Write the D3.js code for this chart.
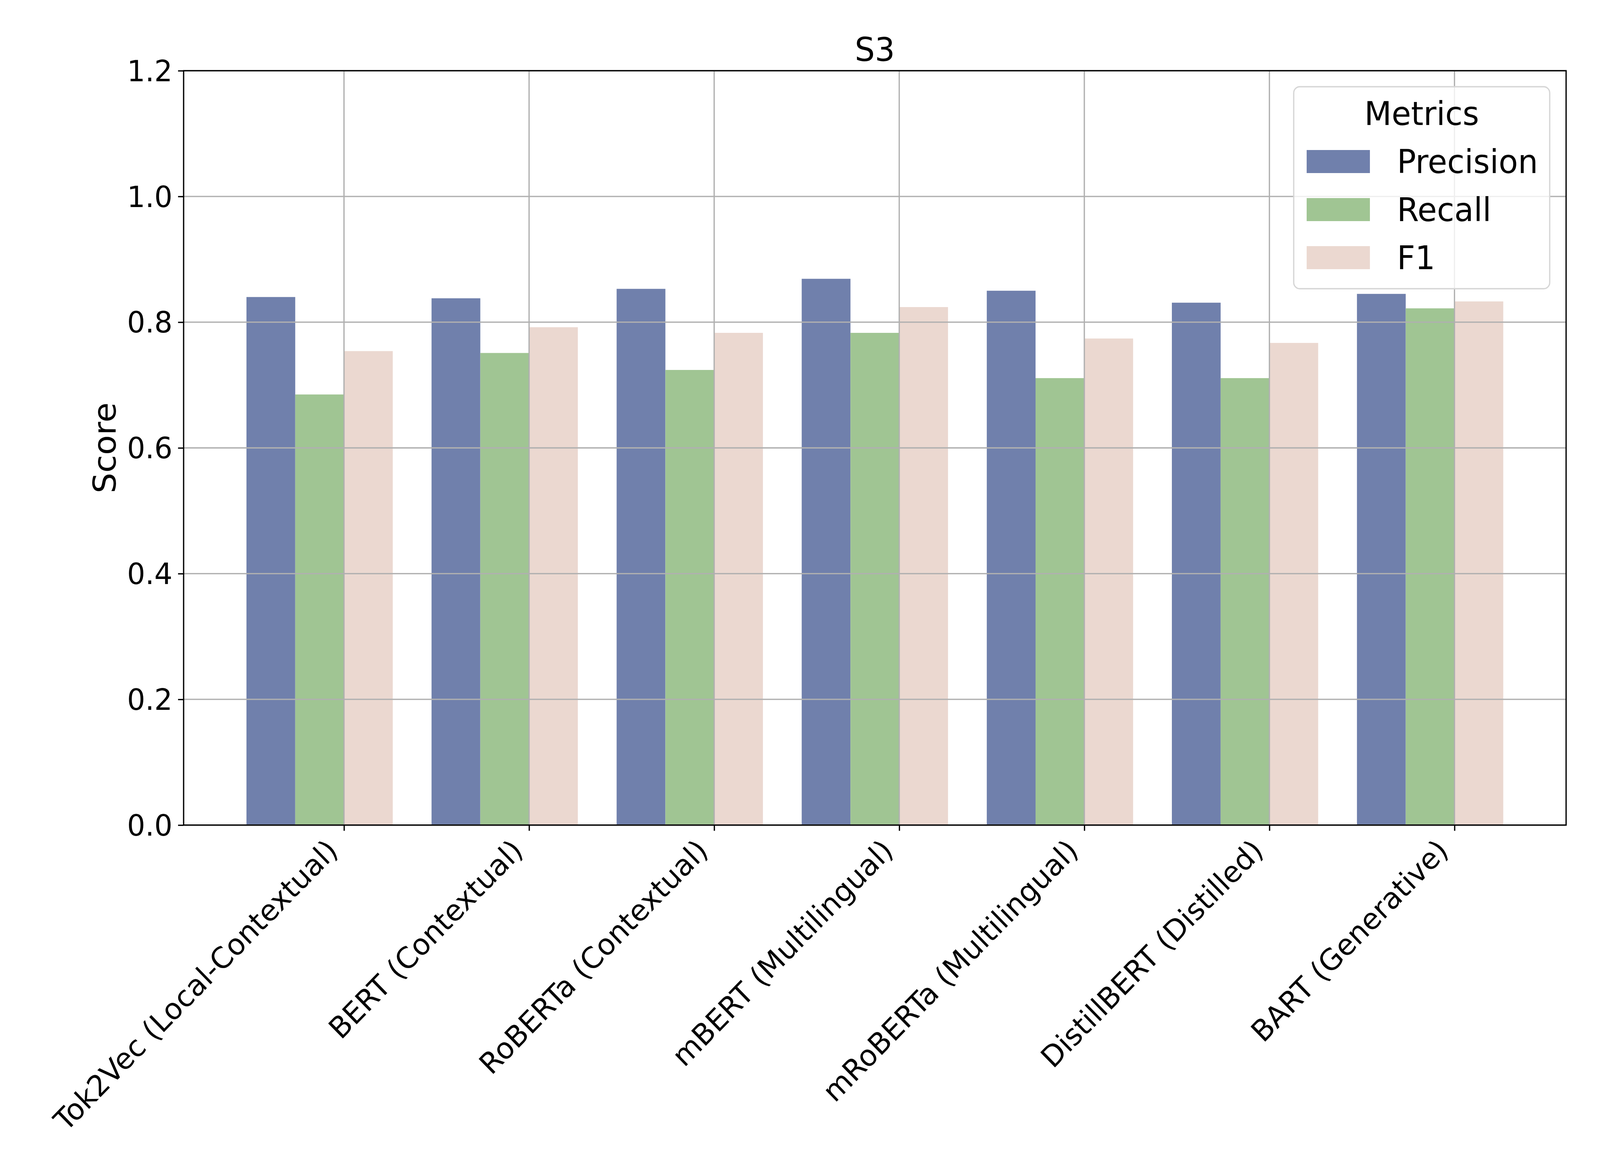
<!DOCTYPE html>
<html>
<head>
<meta charset="utf-8">
<script src="https://cdn.jsdelivr.net/npm/d3@7"></script>
<style>
  html, body { margin: 0; padding: 0; background: #ffffff; overflow: hidden; width: 100%; height: 100%; }
  svg { display: block; width: 100vw; height: 100vh; }
  text { font-family: "DejaVu Sans", sans-serif; fill: #000; }
</style>
</head>
<body>
<svg id="chart" viewBox="0 0 4200 3000" preserveAspectRatio="none"></svg>
<script>
// ---- data ----
const categories = [
  "Tok2Vec (Local-Contextual)",
  "BERT (Contextual)",
  "RoBERTa (Contextual)",
  "mBERT (Multilingual)",
  "mRoBERTa (Multilingual)",
  "DistillBERT (Distilled)",
  "BART (Generative)"
];
const seriesNames = ["Precision", "Recall", "F1"];
const precision = [0.840, 0.838, 0.853, 0.869, 0.850, 0.831, 0.845];
const recall    = [0.685, 0.751, 0.724, 0.783, 0.711, 0.711, 0.822];
const f1        = [0.754, 0.792, 0.783, 0.824, 0.774, 0.767, 0.833];
const yTicks = [0.0, 0.2, 0.4, 0.6, 0.8, 1.0, 1.2];
const colors = ["#7080ac", "#a0c593", "#ebd8d0"];
const title = "S3";
const yLabel = "Score";
const legendTitle = "Metrics";

const seriesValues = [precision, recall, f1];

// ---- layout ----
const svg = d3.select("#chart");
svg.append("rect").attr("width", 4200).attr("height", 3000).attr("fill", "#fff");

const plot = { left: 482, right: 4111, top: 181, bottom: 2112 };
const barW = 0.2635;              // bar width in category units
const offsets = [-2, -1, 0];      // left-edge offsets (in bar widths) for each series
const n = categories.length;
const lo = offsets[0] * barW, hi = (offsets[2] + 1) * barW;
const span = (n - 1) + (hi - lo);
const xDomain = [lo - 0.05 * span, (n - 1) + hi + 0.05 * span];

const x = d3.scaleLinear().domain(xDomain).range([plot.left, plot.right]);
const y = d3.scaleLinear().domain([0, 1.2]).range([plot.bottom, plot.top]);

const lw = 3.33;
const tickLen = 14.6;
const tickFont = 75;
const labelFont = 83;

// ---- bars ----
const barsG = svg.append("g");
seriesValues.forEach((vals, si) => {
  barsG.selectAll(null)
    .data(vals)
    .enter()
    .append("rect")
    .attr("x", (d, i) => x(i + offsets[si] * barW))
    .attr("width", (d, i) => x(i + (offsets[si] + 1) * barW) - x(i + offsets[si] * barW))
    .attr("y", d => y(d))
    .attr("height", d => y(0) - y(d))
    .attr("fill", colors[si]);
});

// ---- grid (drawn above bars) ----
const gridG = svg.append("g");
gridG.selectAll(null).data(yTicks).enter().append("line")
  .attr("x1", plot.left).attr("x2", plot.right)
  .attr("y1", d => y(d)).attr("y2", d => y(d))
  .attr("stroke", "#b0b0b0").attr("stroke-width", lw);
gridG.selectAll(null).data(d3.range(n)).enter().append("line")
  .attr("x1", d => x(d)).attr("x2", d => x(d))
  .attr("y1", plot.top).attr("y2", plot.bottom)
  .attr("stroke", "#b0b0b0").attr("stroke-width", lw);

// ---- axes ----
const yAxis = d3.axisLeft(y).tickValues(yTicks).tickFormat(d3.format(".1f"))
  .tickSize(tickLen).tickPadding(14.6);
const yG = svg.append("g").attr("transform", `translate(${plot.left},0)`).call(yAxis);
yG.select(".domain").remove();
yG.selectAll(".tick line").attr("stroke", "#000").attr("stroke-width", lw);
yG.selectAll(".tick text").attr("font-size", tickFont)
  .attr("font-family", "DejaVu Sans").attr("fill", "#000").attr("dy", "0.35em");

const xAxis = d3.axisBottom(x).tickValues(d3.range(n)).tickFormat(i => categories[i])
  .tickSize(tickLen).tickPadding(0);
const xG = svg.append("g").attr("transform", `translate(0,${plot.bottom})`).call(xAxis);
xG.select(".domain").remove();
xG.selectAll(".tick line").attr("stroke", "#000").attr("stroke-width", lw);
const asc = 0.76 * tickFont, desc = 0.236 * tickFont, c45 = Math.SQRT1_2;
const topY = tickLen + 14.6;
xG.selectAll(".tick text")
  .attr("font-size", tickFont)
  .attr("font-family", "DejaVu Sans")
  .attr("fill", "#000")
  .attr("text-anchor", "end")
  .attr("dy", null)
  .attr("y", null)
  .attr("transform", `translate(${-c45 * desc},${topY + c45 * asc}) rotate(-45)`);

// ---- spines ----
svg.append("rect")
  .attr("x", plot.left).attr("y", plot.top)
  .attr("width", plot.right - plot.left).attr("height", plot.bottom - plot.top)
  .attr("fill", "none").attr("stroke", "#000").attr("stroke-width", lw);

// ---- title & labels ----
svg.append("text")
  .attr("x", (plot.left + plot.right) / 2).attr("y", 156)
  .attr("text-anchor", "middle").attr("font-size", labelFont)
  .text(title);

svg.append("text")
  .attr("transform", `translate(304,${(plot.top + plot.bottom) / 2}) rotate(-90)`)
  .attr("text-anchor", "middle").attr("font-size", labelFont)
  .text(yLabel);

// ---- legend ----
const leg = { x: 3396, y: 222, w: 672, h: 517 };
const legG = svg.append("g");
legG.append("rect")
  .attr("x", leg.x).attr("y", leg.y).attr("width", leg.w).attr("height", leg.h)
  .attr("rx", 16).attr("ry", 16)
  .attr("fill", "#fff").attr("fill-opacity", 0.8)
  .attr("stroke", "#d6d6d6").attr("stroke-width", lw);
legG.append("text")
  .attr("x", leg.x + leg.w / 2).attr("y", 320)
  .attr("text-anchor", "middle").attr("font-size", labelFont)
  .text(legendTitle);
const rowY0 = 384, rowStep = 123;
seriesNames.forEach((name, i) => {
  legG.append("rect")
    .attr("x", 3430).attr("y", rowY0 + i * rowStep)
    .attr("width", 166).attr("height", 59)
    .attr("fill", colors[i]);
  legG.append("text")
    .attr("x", 3667).attr("y", rowY0 + i * rowStep + 59)
    .attr("font-size", labelFont)
    .text(name);
});
</script>
</body>
</html>
